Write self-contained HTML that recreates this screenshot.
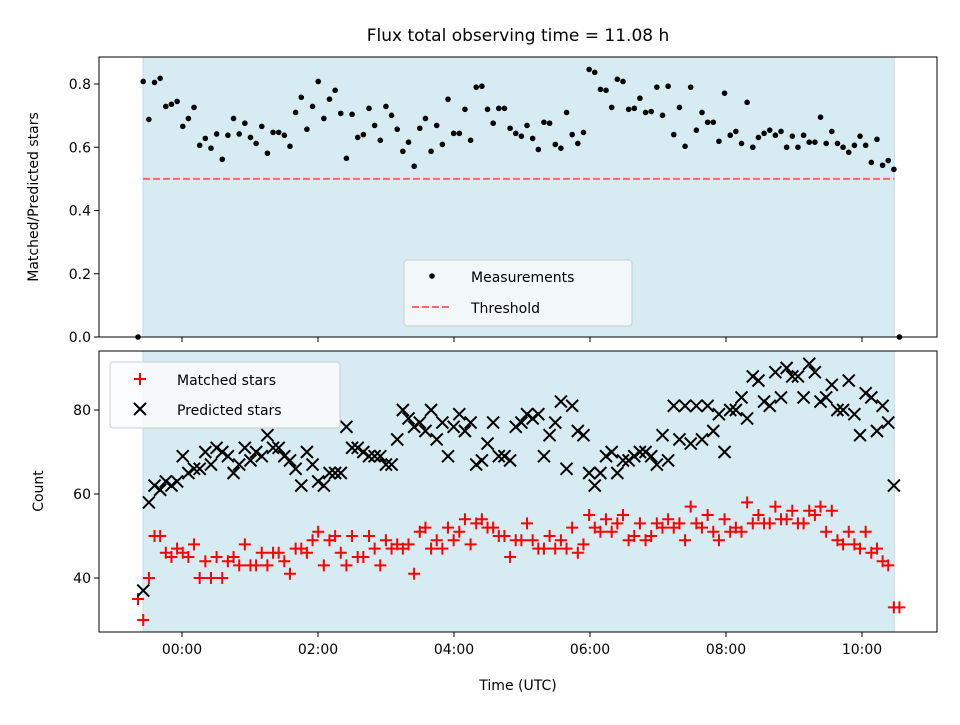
<!DOCTYPE html>
<html><head><meta charset="utf-8"><style>
body{margin:0;background:#fff;}
svg text{font-family:"DejaVu Sans","Liberation Sans",sans-serif;fill:#000;}
</style></head><body>
<svg id="c" width="960" height="720" xmlns="http://www.w3.org/2000/svg"></svg>
<script>
const ratioVals=[0.808,0.688,0.805,0.818,0.729,0.736,0.745,0.666,0.691,0.726,0.606,0.628,0.597,0.642,0.562,0.638,0.691,0.642,0.676,0.631,0.612,0.666,0.581,0.647,0.647,0.638,0.603,0.710,0.758,0.657,0.729,0.808,0.691,0.752,0.780,0.707,0.565,0.704,0.631,0.640,0.723,0.669,0.622,0.729,0.701,0.657,
0.587,0.616,0.540,0.660,0.691,0.587,0.669,0.609,0.752,0.644,0.644,0.720,0.622,0.790,0.793,0.720,0.676,0.723,0.723,0.660,0.644,0.635,0.669,0.628,0.593,0.679,0.676,0.609,0.597,0.710,0.640,0.612,0.647,0.846,0.837,0.783,0.780,0.726,0.815,0.808,0.720,0.723,0.755,0.710,0.713,0.790,
0.701,0.793,0.640,0.726,0.603,0.790,0.654,0.710,0.679,0.679,0.619,0.771,0.638,0.650,0.612,0.742,0.600,0.631,0.644,0.654,0.638,0.650,0.600,0.635,0.600,0.638,0.616,0.616,0.695,0.612,0.650,0.612,0.600,0.584,0.606,0.635,0.606,0.552,0.625,0.543,0.558,0.530];
const matchedVals=[30,40,50,50,46,45,47,46,45,48,40,44,40,45,40,44,45,43,48,43,43,46,43,46,46,44,41,47,47,46,49,51,43,49,50,46,43,50,45,45,50,47,43,49,47,48,47,48,41,51,52,47,49,47,52,49,51,54,48,53,54,52,52,50,50,45,49,49,53,49,47,47,50,47,49,47,52,46,48,55,52,51,54,51,53,55,49,50,53,49,50,53,52,54,52,53,49,57,53,52,55,51,49,54,51,52,51,58,53,55,53,53,57,54,54,56,53,53,56,55,57,51,56,49,48,51,48,47,51,46,47,44,43,33];
const predictedVals=[37,58,62,61,63,62,63,69,65,66,66,70,67,71,70,69,65,67,71,68,70,69,74,71,71,69,68,66,62,70,67,63,62,65,65,65,76,71,71,70,69,69,69,67,67,73,80,78,76,77,75,80,73,77,69,76,79,75,77,67,68,72,77,69,69,68,76,77,79,78,79,69,74,77,82,66,81,75,74,65,62,65,69,70,65,68,68,69,70,70,69,67,74,68,81,73,81,72,81,73,81,75,79,70,80,80,83,78,88,87,82,81,89,83,90,88,88,83,91,89,82,83,86,80,80,87,79,74,84,83,75,81,77,62];
const startMin=-34.2, stepMin=4.98;
const extraTimes=[-38.8,633];
const extraRatio=[0,0];
const extraMatched=[35,33];
const yTicksTop=[0.0,0.2,0.4,0.6,0.8];
const yTicksBot=[40,60,80];
const xTickMin=[0,120,240,360,480,600];
const xTickLabels=["00:00","02:00","04:00","06:00","08:00","10:00"];
const threshold=0.5;
const spanStart=-34.4, spanEnd=628.5;

const NS="http://www.w3.org/2000/svg";
const svg=document.getElementById('c');
function el(tag,attrs,parent){const e=document.createElementNS(NS,tag);for(const k in attrs)e.setAttribute(k,attrs[k]);(parent||svg).appendChild(e);return e;}
const L=99,R=937,T1=57,B1=337,T2=351,B2=632;
const FS=14;
const X=m=>182+m*68/60;
const Y1=v=>337-v*316.25;
const Y2=v=>578-(v-40)*4.2;
const times=ratioVals.map((_,i)=>startMin+i*stepMin);

for(const [t,b,n] of [[T1,B1,'top'],[T2,B2,'bottom']]){
  const s=el('rect',{x:X(spanStart),y:t,width:X(spanEnd)-X(spanStart),height:b-t,fill:'#d6ebf2',stroke:'#c0dde8','stroke-width':1});
  
  
}
const th=el('line',{x1:X(spanStart),x2:X(spanEnd),y1:Y1(threshold),y2:Y1(threshold),stroke:'#ff6666','stroke-width':2,'stroke-dasharray':'7,3'});


const gTop=el('g',{});


ratioVals.forEach((v,i)=>{const c=el('circle',{cx:X(times[i]),cy:Y1(v),r:2.8,fill:'#000'},gTop);

});
extraTimes.forEach((t,i)=>{const c=el('circle',{cx:X(t),cy:Y1(extraRatio[i]),r:2.8,fill:'#000'},gTop);

});
function plus(x,y,g){el('path',{d:`M${x-6} ${y}H${x+6}M${x} ${y-6}V${y+6}`,stroke:'#f00','stroke-width':2},g);}
function cross(x,y,g){el('path',{d:`M${x-6} ${y-6}L${x+6} ${y+6}M${x-6} ${y+6}L${x+6} ${y-6}`,stroke:'#000','stroke-width':2},g);}
const gM=el('g',{});


matchedVals.forEach((v,i)=>plus(X(times[i]),Y2(v),gM));
extraTimes.forEach((t,i)=>plus(X(t),Y2(extraMatched[i]),gM));
const gP=el('g',{});


predictedVals.forEach((v,i)=>cross(X(times[i]),Y2(v),gP));

for(const [t,b,n] of [[T1,B1,'top'],[T2,B2,'bottom']]){
  const f=el('rect',{x:L,y:t,width:R-L,height:b-t,fill:'none',stroke:'#000','stroke-width':1});
  
  
  xTickMin.forEach((m,i)=>{el('line',{x1:X(m),x2:X(m),y1:b,y2:b+5,stroke:'#000'});
    if(n==='bottom'){const tx=el('text',{x:X(m),y:b+22,'text-anchor':'middle','font-size':FS});tx.textContent=xTickLabels[i];
      
      }});
}
yTicksTop.forEach(v=>{el('line',{x1:L-5,x2:L,y1:Y1(v),y2:Y1(v),stroke:'#000'});
  const t=el('text',{x:L-8,y:Y1(v)+5,'text-anchor':'end','font-size':FS});t.textContent=v.toFixed(1);
  
  });
yTicksBot.forEach(v=>{el('line',{x1:L-5,x2:L,y1:Y2(v),y2:Y2(v),stroke:'#000'});
  const t=el('text',{x:L-8,y:Y2(v)+5,'text-anchor':'end','font-size':FS});t.textContent=v;
  
  });

let t=el('text',{x:518,y:41,'text-anchor':'middle','font-size':17});t.textContent='Flux total observing time = 11.08 h';


t=el('text',{x:0,y:0,'text-anchor':'middle','font-size':FS,transform:'translate(38,197) rotate(-90)'});t.textContent='Matched/Predicted stars';


t=el('text',{x:0,y:0,'text-anchor':'middle','font-size':FS,transform:'translate(43,491) rotate(-90)'});t.textContent='Count';


t=el('text',{x:518,y:690,'text-anchor':'middle','font-size':FS});t.textContent='Time (UTC)';



const lg1=el('g',{});


el('rect',{x:404,y:260,width:228,height:66,rx:3,fill:'#f7fafc','fill-opacity':0.85,stroke:'#ccc'},lg1);
el('circle',{cx:432,cy:276,r:2.8,fill:'#000'},lg1);
t=el('text',{x:471,y:282,'font-size':FS},lg1);t.textContent='Measurements';


el('line',{x1:412,x2:452,y1:307,y2:307,stroke:'#ff6666','stroke-width':2,'stroke-dasharray':'7,3'},lg1);
t=el('text',{x:471,y:313,'font-size':FS},lg1);t.textContent='Threshold';


const lg2=el('g',{});


el('rect',{x:110,y:362,width:230,height:66,rx:3,fill:'#fafcfd','fill-opacity':0.85,stroke:'#ccc'},lg2);
plus(140,379,lg2);
t=el('text',{x:177,y:385,'font-size':FS},lg2);t.textContent='Matched stars';


cross(140,409,lg2);
t=el('text',{x:177,y:415,'font-size':FS},lg2);t.textContent='Predicted stars';


</script>
</body></html>
